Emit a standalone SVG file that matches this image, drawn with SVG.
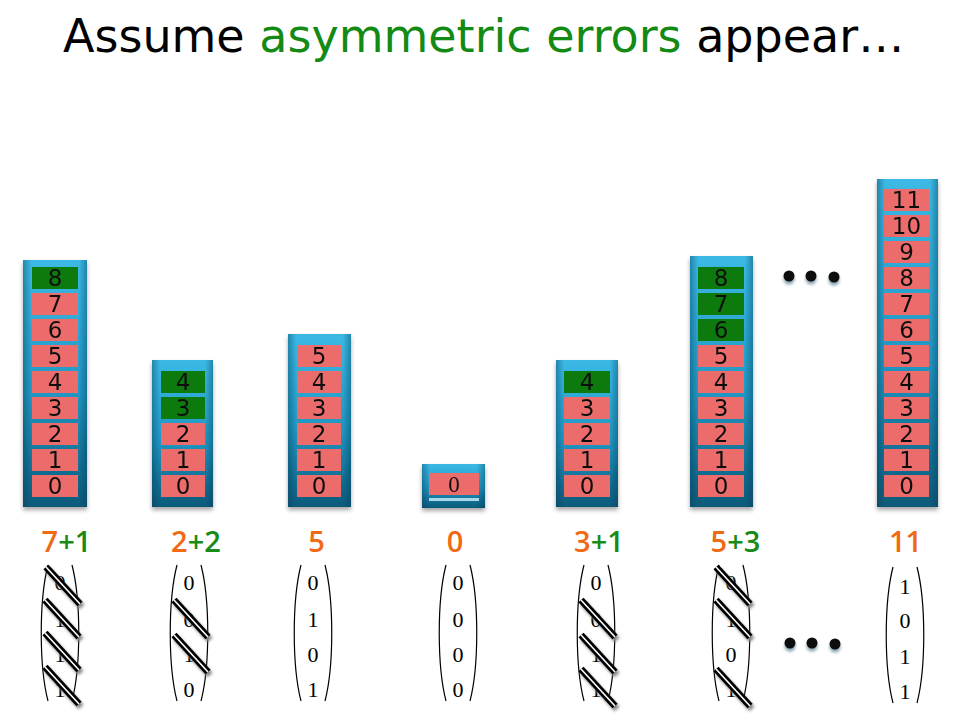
<svg xmlns="http://www.w3.org/2000/svg" xmlns:xlink="http://www.w3.org/1999/xlink" width="960" height="720" viewBox="0 0 960 720">
<defs>
<style>
.title{font-family:"DejaVu Sans",sans-serif;font-size:46px;fill:#000}
.grn{fill:#138a13}
.col{fill:url(#colV)}
.edge{fill:url(#colH)}
.cell{fill:#ec6c6c}
.gcell{fill:#0a7a0a}
.num{font-family:"DejaVu Sans",sans-serif;font-size:23px;fill:#111;text-anchor:middle}
.lab{font-family:"Open Sans",sans-serif;font-size:29px;font-weight:600;text-anchor:middle}
.or{fill:#f06a14}
.lg{fill:#178a17}
.vec{font-family:"Liberation Serif",serif;font-size:22px;fill:#000;text-anchor:middle}
.par{fill:none;stroke:#000;stroke-width:1.2}
.dot{fill:#0d0d0d}
</style>
<linearGradient id="colV" x1="0" y1="0" x2="0" y2="1">
<stop offset="0" stop-color="#3bb9e4"/>
<stop offset="0.55" stop-color="#2196c2"/>
<stop offset="1" stop-color="#0a5a7a"/>
</linearGradient>
<linearGradient id="colH" x1="0" y1="0" x2="1" y2="0">
<stop offset="0" stop-color="#003a55" stop-opacity="0.4"/>
<stop offset="0.13" stop-color="#003a55" stop-opacity="0"/>
<stop offset="0.87" stop-color="#003a55" stop-opacity="0"/>
<stop offset="1" stop-color="#003a55" stop-opacity="0.4"/>
</linearGradient>
<filter id="shadow" x="-20%" y="-10%" width="140%" height="130%">
<feDropShadow dx="0" dy="3" stdDeviation="2" flood-color="#000" flood-opacity="0.35"/>
</filter>
<filter id="blur" x="-50%" y="-50%" width="200%" height="200%">
<feGaussianBlur stdDeviation="1.6"/>
</filter>
<g id="slash">
<line x1="-14" y1="-14" x2="20" y2="23" stroke="#888" stroke-width="7" filter="url(#blur)"/>
<line x1="-16" y1="-17" x2="18" y2="20" stroke="#000" stroke-width="7"/>
<line x1="-16" y1="-17" x2="18" y2="20" stroke="#fff" stroke-width="1.6"/>
</g>
<g id="dot3">
<circle cx="0" cy="3" r="5.5" fill="#3a6a80" opacity="0.6" filter="url(#blur)"/>
<circle cx="0" cy="0" r="5.5" class="dot"/>
</g>
</defs>
<rect width="960" height="720" fill="#fff"/>

<text class="title" x="63" y="52">Assume <tspan class="grn">asymmetric errors</tspan> appear…</text>

<!-- column 1 -->
<g id="col1" filter="url(#shadow)">
<rect class="col" x="23" y="260" width="64" height="247"/>
<rect class="edge" x="23" y="260" width="64" height="247"/>
<rect class="cell" x="32" y="475" width="46" height="22"/>
<rect class="cell" x="32" y="449" width="46" height="22"/>
<rect class="cell" x="32" y="423" width="46" height="22"/>
<rect class="cell" x="32" y="397" width="46" height="22"/>
<rect class="cell" x="32" y="371" width="46" height="22"/>
<rect class="cell" x="32" y="345" width="46" height="22"/>
<rect class="cell" x="32" y="319" width="46" height="22"/>
<rect class="cell" x="32" y="293" width="46" height="22"/>
<rect class="gcell" x="32" y="267" width="46" height="22"/>
<text class="num" x="55" y="494">0</text>
<text class="num" x="55" y="468">1</text>
<text class="num" x="55" y="442">2</text>
<text class="num" x="55" y="416">3</text>
<text class="num" x="55" y="390">4</text>
<text class="num" x="55" y="364">5</text>
<text class="num" x="55" y="338">6</text>
<text class="num" x="55" y="312">7</text>
<text class="num" x="55" y="286">8</text>
</g>

<!-- column 2 -->
<g id="col2" filter="url(#shadow)">
<rect class="col" x="152" y="360" width="61" height="147"/>
<rect class="edge" x="152" y="360" width="61" height="147"/>
<rect class="cell" x="161" y="475" width="44" height="22"/>
<rect class="cell" x="161" y="449" width="44" height="22"/>
<rect class="cell" x="161" y="423" width="44" height="22"/>
<rect class="gcell" x="161" y="397" width="44" height="22"/>
<rect class="gcell" x="161" y="371" width="44" height="22"/>
<text class="num" x="183" y="494">0</text>
<text class="num" x="183" y="468">1</text>
<text class="num" x="183" y="442">2</text>
<text class="num" x="183" y="416">3</text>
<text class="num" x="183" y="390">4</text>
</g>

<!-- column 3 -->
<g id="col3" filter="url(#shadow)">
<rect class="col" x="288" y="334" width="63" height="173"/>
<rect class="edge" x="288" y="334" width="63" height="173"/>
<rect class="cell" x="297" y="475" width="44" height="22"/>
<rect class="cell" x="297" y="449" width="44" height="22"/>
<rect class="cell" x="297" y="423" width="44" height="22"/>
<rect class="cell" x="297" y="397" width="44" height="22"/>
<rect class="cell" x="297" y="371" width="44" height="22"/>
<rect class="cell" x="297" y="345" width="44" height="22"/>
<text class="num" x="319" y="494">0</text>
<text class="num" x="319" y="468">1</text>
<text class="num" x="319" y="442">2</text>
<text class="num" x="319" y="416">3</text>
<text class="num" x="319" y="390">4</text>
<text class="num" x="319" y="364">5</text>
</g>

<!-- column 4 -->
<g id="col4" filter="url(#shadow)">
<rect class="col" x="422" y="464" width="63" height="44"/>
<rect class="edge" x="422" y="464" width="63" height="44"/>
<rect class="cell" x="429" y="473" width="50" height="22"/>
<rect x="429" y="498" width="50" height="3" fill="#a9d8e6"/>
<text class="num" x="454" y="492" style="font-family:'Liberation Serif',serif;font-size:23px">0</text>
</g>

<!-- column 5 -->
<g id="col5" filter="url(#shadow)">
<rect class="col" x="556" y="360" width="62" height="147"/>
<rect class="edge" x="556" y="360" width="62" height="147"/>
<rect class="cell" x="564" y="475" width="46" height="22"/>
<rect class="cell" x="564" y="449" width="46" height="22"/>
<rect class="cell" x="564" y="423" width="46" height="22"/>
<rect class="cell" x="564" y="397" width="46" height="22"/>
<rect class="gcell" x="564" y="371" width="46" height="22"/>
<text class="num" x="587" y="494">0</text>
<text class="num" x="587" y="468">1</text>
<text class="num" x="587" y="442">2</text>
<text class="num" x="587" y="416">3</text>
<text class="num" x="587" y="390">4</text>
</g>

<!-- column 6 -->
<g id="col6" filter="url(#shadow)">
<rect class="col" x="690" y="256" width="63" height="251"/>
<rect class="edge" x="690" y="256" width="63" height="251"/>
<rect class="cell" x="698" y="475" width="46" height="22"/>
<rect class="cell" x="698" y="449" width="46" height="22"/>
<rect class="cell" x="698" y="423" width="46" height="22"/>
<rect class="cell" x="698" y="397" width="46" height="22"/>
<rect class="cell" x="698" y="371" width="46" height="22"/>
<rect class="cell" x="698" y="345" width="46" height="22"/>
<rect class="gcell" x="698" y="319" width="46" height="22"/>
<rect class="gcell" x="698" y="293" width="46" height="22"/>
<rect class="gcell" x="698" y="267" width="46" height="22"/>
<text class="num" x="721" y="494">0</text>
<text class="num" x="721" y="468">1</text>
<text class="num" x="721" y="442">2</text>
<text class="num" x="721" y="416">3</text>
<text class="num" x="721" y="390">4</text>
<text class="num" x="721" y="364">5</text>
<text class="num" x="721" y="338">6</text>
<text class="num" x="721" y="312">7</text>
<text class="num" x="721" y="286">8</text>
</g>

<!-- column 7 -->
<g id="col7" filter="url(#shadow)">
<rect class="col" x="877" y="179" width="61" height="328"/>
<rect class="edge" x="877" y="179" width="61" height="328"/>
<rect class="cell" x="884" y="475" width="45" height="22"/>
<rect class="cell" x="884" y="449" width="45" height="22"/>
<rect class="cell" x="884" y="423" width="45" height="22"/>
<rect class="cell" x="884" y="397" width="45" height="22"/>
<rect class="cell" x="884" y="371" width="45" height="22"/>
<rect class="cell" x="884" y="345" width="45" height="22"/>
<rect class="cell" x="884" y="319" width="45" height="22"/>
<rect class="cell" x="884" y="293" width="45" height="22"/>
<rect class="cell" x="884" y="267" width="45" height="22"/>
<rect class="cell" x="884" y="241" width="45" height="22"/>
<rect class="cell" x="884" y="215" width="45" height="22"/>
<rect class="cell" x="884" y="189" width="45" height="22"/>
<text class="num" x="906.5" y="494">0</text>
<text class="num" x="906.5" y="468">1</text>
<text class="num" x="906.5" y="442">2</text>
<text class="num" x="906.5" y="416">3</text>
<text class="num" x="906.5" y="390">4</text>
<text class="num" x="906.5" y="364">5</text>
<text class="num" x="906.5" y="338">6</text>
<text class="num" x="906.5" y="312">7</text>
<text class="num" x="906.5" y="286">8</text>
<text class="num" x="906.5" y="260">9</text>
<text class="num" x="906.5" y="234">10</text>
<text class="num" x="906.5" y="208">11</text>
</g>

<!-- ellipses -->
<g id="dots-top">
<use xlink:href="#dot3" x="789" y="276"/>
<use xlink:href="#dot3" x="811" y="276"/>
<use xlink:href="#dot3" x="834" y="277"/>
</g>
<g id="dots-bottom">
<use xlink:href="#dot3" x="790" y="643"/>
<use xlink:href="#dot3" x="812" y="643"/>
<use xlink:href="#dot3" x="835" y="644"/>
</g>

<!-- count labels -->
<g id="labels">
<text class="lab" x="66.5" y="552"><tspan class="or">7</tspan><tspan class="lg">+1</tspan></text>
<text class="lab" x="196" y="552"><tspan class="or">2</tspan><tspan class="lg">+2</tspan></text>
<text class="lab or" x="316.5" y="552">5</text>
<text class="lab or" x="455" y="552">0</text>
<text class="lab" x="599" y="552"><tspan class="or">3</tspan><tspan class="lg">+1</tspan></text>
<text class="lab" x="735.5" y="552"><tspan class="or">5</tspan><tspan class="lg">+3</tspan></text>
<text class="lab or" x="905.5" y="552">11</text>
</g>

<!-- vectors -->
<g id="vec1">
<path class="par" d="M48,565 C39,600 39,666 48,701"/>
<path class="par" d="M72,565 C81,600 81,666 72,701"/>
<text class="vec" x="60" y="590">0</text>
<text class="vec" x="60" y="627">1</text>
<text class="vec" x="60" y="662">1</text>
<text class="vec" x="60" y="697">1</text>
</g>
<g id="vec2">
<path class="par" d="M177,565 C168,600 168,666 177,701"/>
<path class="par" d="M201,565 C210,600 210,666 201,701"/>
<text class="vec" x="189" y="590">0</text>
<text class="vec" x="189" y="627">0</text>
<text class="vec" x="189" y="662">1</text>
<text class="vec" x="189" y="697">0</text>
</g>
<g id="vec3">
<path class="par" d="M301,565 C292,600 292,666 301,701"/>
<path class="par" d="M325,565 C334,600 334,666 325,701"/>
<text class="vec" x="313" y="590">0</text>
<text class="vec" x="313" y="627">1</text>
<text class="vec" x="313" y="662">0</text>
<text class="vec" x="313" y="697">1</text>
</g>
<g id="vec4">
<path class="par" d="M446,565 C437,600 437,666 446,701"/>
<path class="par" d="M470,565 C479,600 479,666 470,701"/>
<text class="vec" x="458" y="590">0</text>
<text class="vec" x="458" y="627">0</text>
<text class="vec" x="458" y="662">0</text>
<text class="vec" x="458" y="697">0</text>
</g>
<g id="vec5">
<path class="par" d="M584,565 C575,600 575,666 584,701"/>
<path class="par" d="M608,565 C617,600 617,666 608,701"/>
<text class="vec" x="596" y="590">0</text>
<text class="vec" x="596" y="627">0</text>
<text class="vec" x="596" y="662">1</text>
<text class="vec" x="596" y="697">1</text>
</g>
<g id="vec6">
<path class="par" d="M719,565 C710,600 710,666 719,701"/>
<path class="par" d="M743,565 C752,600 752,666 743,701"/>
<text class="vec" x="731" y="590">0</text>
<text class="vec" x="731" y="627">1</text>
<text class="vec" x="731" y="662">0</text>
<text class="vec" x="731" y="697">1</text>
</g>
<g id="vec7">
<path class="par" d="M893,567 C884,602 884,668 893,703"/>
<path class="par" d="M917,567 C926,602 926,668 917,703"/>
<text class="vec" x="905" y="594">1</text>
<text class="vec" x="905" y="628">0</text>
<text class="vec" x="905" y="664">1</text>
<text class="vec" x="905" y="699">1</text>
</g>

<!-- strike-through marks -->
<g id="connectors">
<use xlink:href="#slash" x="62" y="584"/>
<use xlink:href="#slash" x="61" y="617"/>
<use xlink:href="#slash" x="61" y="650"/>
<use xlink:href="#slash" x="61" y="684"/>
<use xlink:href="#slash" x="190" y="617"/>
<use xlink:href="#slash" x="190" y="652"/>
<use xlink:href="#slash" x="597" y="617"/>
<use xlink:href="#slash" x="597" y="652"/>
<use xlink:href="#slash" x="597" y="686"/>
<use xlink:href="#slash" x="732" y="584"/>
<use xlink:href="#slash" x="732" y="617"/>
<use xlink:href="#slash" x="732" y="686"/>
</g>
</svg>
